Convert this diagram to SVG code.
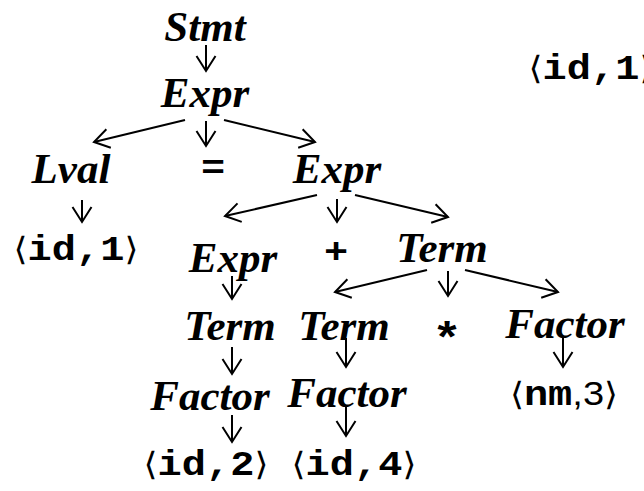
<svg xmlns="http://www.w3.org/2000/svg" width="644" height="491" viewBox="0 0 644 491">
<style>
.nt{font-family:"Liberation Serif","Times New Roman",serif;font-weight:bold;font-style:italic;font-size:43px;fill:#000;text-anchor:middle}
.tk{font-family:"Liberation Mono","Courier New",monospace;font-weight:bold;font-size:36px;fill:#000;text-anchor:middle}
.br{font-family:"DejaVu Sans","DejaVu Serif",sans-serif;font-weight:normal;font-size:32px}
.sn{font-family:"Liberation Sans",Arial,sans-serif;font-weight:normal;font-size:34px}
.cn line{stroke:#000;stroke-width:2;fill:none;marker-end:url(#ah)}
</style>
<defs>
<marker id="ah" markerUnits="userSpaceOnUse" viewBox="-18 -12 20 24" refX="0" refY="0" markerWidth="20" markerHeight="24" orient="auto" overflow="visible">
<path d="M-15,-9.5 L0,0 L-15,9.5" fill="none" stroke="#000" stroke-width="2"/>
</marker>
</defs>
<rect width="644" height="491" fill="#fff"/>
<g id="connectors" class="cn">
<line x1="206" y1="45" x2="206" y2="71"/>
<line x1="185" y1="120" x2="94" y2="142"/>
<line x1="206" y1="121" x2="206" y2="146"/>
<line x1="224" y1="120" x2="315" y2="142"/>
<line x1="82" y1="200" x2="82" y2="222"/>
<line x1="317" y1="195" x2="225" y2="216"/>
<line x1="337" y1="199" x2="337" y2="222"/>
<line x1="355" y1="195" x2="448" y2="217"/>
<line x1="232" y1="276" x2="232" y2="299"/>
<line x1="427" y1="270" x2="335" y2="292"/>
<line x1="448" y1="271" x2="448" y2="296"/>
<line x1="465" y1="270" x2="558" y2="292"/>
<line x1="232" y1="347" x2="232" y2="374"/>
<line x1="232" y1="415" x2="232" y2="442"/>
<line x1="346" y1="338" x2="346" y2="367"/>
<line x1="346" y1="405" x2="346" y2="436"/>
<line x1="563" y1="338" x2="563" y2="367"/>
</g>
<g id="stmt"><text class="nt" x="205" y="41">Stmt</text></g>
<g id="expr1"><text class="nt" x="205" y="107">Expr</text></g>
<g id="lval"><text class="nt" x="71" y="183">Lval</text></g>
<g id="eq"><g transform="translate(213,179) scale(1.12,1)"><text class="tk" x="0" y="0">=</text></g></g>
<g id="expr2"><text class="nt" x="337" y="183">Expr</text></g>
<g id="id1"><g transform="translate(76,260) scale(1.12,1)"><text class="tk" x="0" y="0"><tspan class="br">⟨</tspan>id,1<tspan class="br">⟩</tspan></text></g></g>
<g id="id1top"><g transform="translate(591,79) scale(1.12,1)"><text class="tk" x="0" y="0"><tspan class="br">⟨</tspan>id,1<tspan class="br">⟩</tspan></text></g></g>
<g id="expr3"><text class="nt" x="233" y="272">Expr</text></g>
<g id="plus"><g transform="translate(336,263) scale(1.12,1)"><text class="tk" x="0" y="0">+</text></g></g>
<g id="term1"><text class="nt" x="442" y="262">Term</text></g>
<g id="term2"><text class="nt" x="230" y="340">Term</text></g>
<g id="term3"><text class="nt" x="344" y="340">Term</text></g>
<g id="star"><g transform="translate(447,353) scale(1.12,1)"><text class="tk" x="0" y="0" style="font-size:44px">*</text></g></g>
<g id="factor1"><text class="nt" x="565" y="338">Factor</text></g>
<g id="factor2"><text class="nt" x="210" y="410">Factor</text></g>
<g id="factor3"><text class="nt" x="347" y="407">Factor</text></g>
<g id="nm3"><g transform="translate(564,405) scale(1.12,1)"><text class="tk" x="0" y="0"><tspan class="br">⟨</tspan>nm<tspan class="sn">,3</tspan><tspan class="br">⟩</tspan></text></g></g>
<g id="id2"><g transform="translate(206,475) scale(1.12,1)"><text class="tk" x="0" y="0"><tspan class="br">⟨</tspan>id,2<tspan class="br">⟩</tspan></text></g></g>
<g id="id4"><g transform="translate(354,475) scale(1.12,1)"><text class="tk" x="0" y="0"><tspan class="br">⟨</tspan>id,4<tspan class="br">⟩</tspan></text></g></g>
</svg>
